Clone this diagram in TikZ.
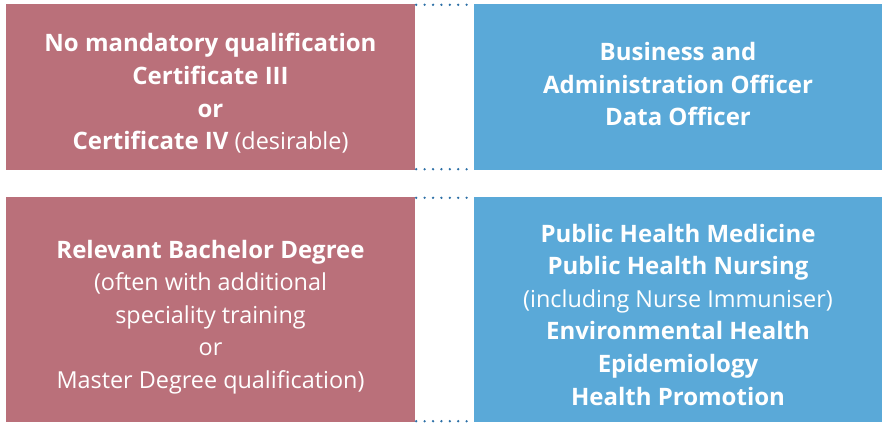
\documentclass[tikz,border=0pt]{standalone}
\usepackage{fontspec}
\setmainfont{Open Sans}
\definecolor{rose}{HTML}{BA707A}
\definecolor{sky}{HTML}{5AA9D8}
\definecolor{dotblue}{HTML}{2C6FA6}
\newcommand{\bl}[1]{{\fontsize{24}{32.6}\selectfont\bfseries #1}}
\begin{document}
\begin{tikzpicture}[x=1pt,y=1pt,
  box/.style={fill=#1,draw=none,inner sep=0pt,minimum width=409pt,text=white,align=center,
    font=\fontsize{23.4}{32.6}\selectfont},
  dots/.style={dotblue,line width=2.6pt,line cap=round,dash pattern=on 0pt off 8.4pt}]
\useasboundingbox (0,0) rectangle (882,424);
\node[box=rose,minimum height=166pt] (lt) at (210.5,337) {};
\node[box=sky,minimum height=166pt,minimum width=408pt] (rt) at (678,337) {};
\node[box=rose,minimum height=225pt] (lb) at (210.5,114.5) {};
\node[box=sky,minimum height=225pt,minimum width=408pt] (rb) at (678,114.5) {};
\node[box=rose,fill=none] (ltt) at (210.5,330.5) {\bl{No mandatory qualification}\\\bl{Certificate III}\\\bl{or}\\\bl{Certificate IV} (desirable)};
\node[box=sky,fill=none] (rtt) at (678,340) {\bl{Business and}\\\bl{Administration Officer}\\\bl{Data Officer}};
\node[box=rose,fill=none] (lbt) at (210.5,107) {\bl{Relevant Bachelor Degree}\\(often with additional\\speciality training\\or\\Master Degree qualification)};
\node[box=sky,fill=none] (rbt) at (678,109.5) {\bl{Public Health Medicine}\\\bl{Public Health Nursing}\\(including Nurse Immuniser)\\\bl{Environmental Health}\\\bl{Epidemiology}\\\bl{Health Promotion}};
\draw[dots] ([xshift=1pt,yshift=-1pt]lt.north east) -- ([yshift=-1pt]rt.north west);
\draw[dots] ([xshift=1pt,yshift=1pt]lt.south east) -- ([yshift=1pt]rt.south west);
\draw[dots] ([xshift=1pt,yshift=-1pt]lb.north east) -- ([yshift=-1pt]rb.north west);
\draw[dots] ([xshift=1pt,yshift=1pt]lb.south east) -- ([yshift=1pt]rb.south west);
\end{tikzpicture}
\end{document}
